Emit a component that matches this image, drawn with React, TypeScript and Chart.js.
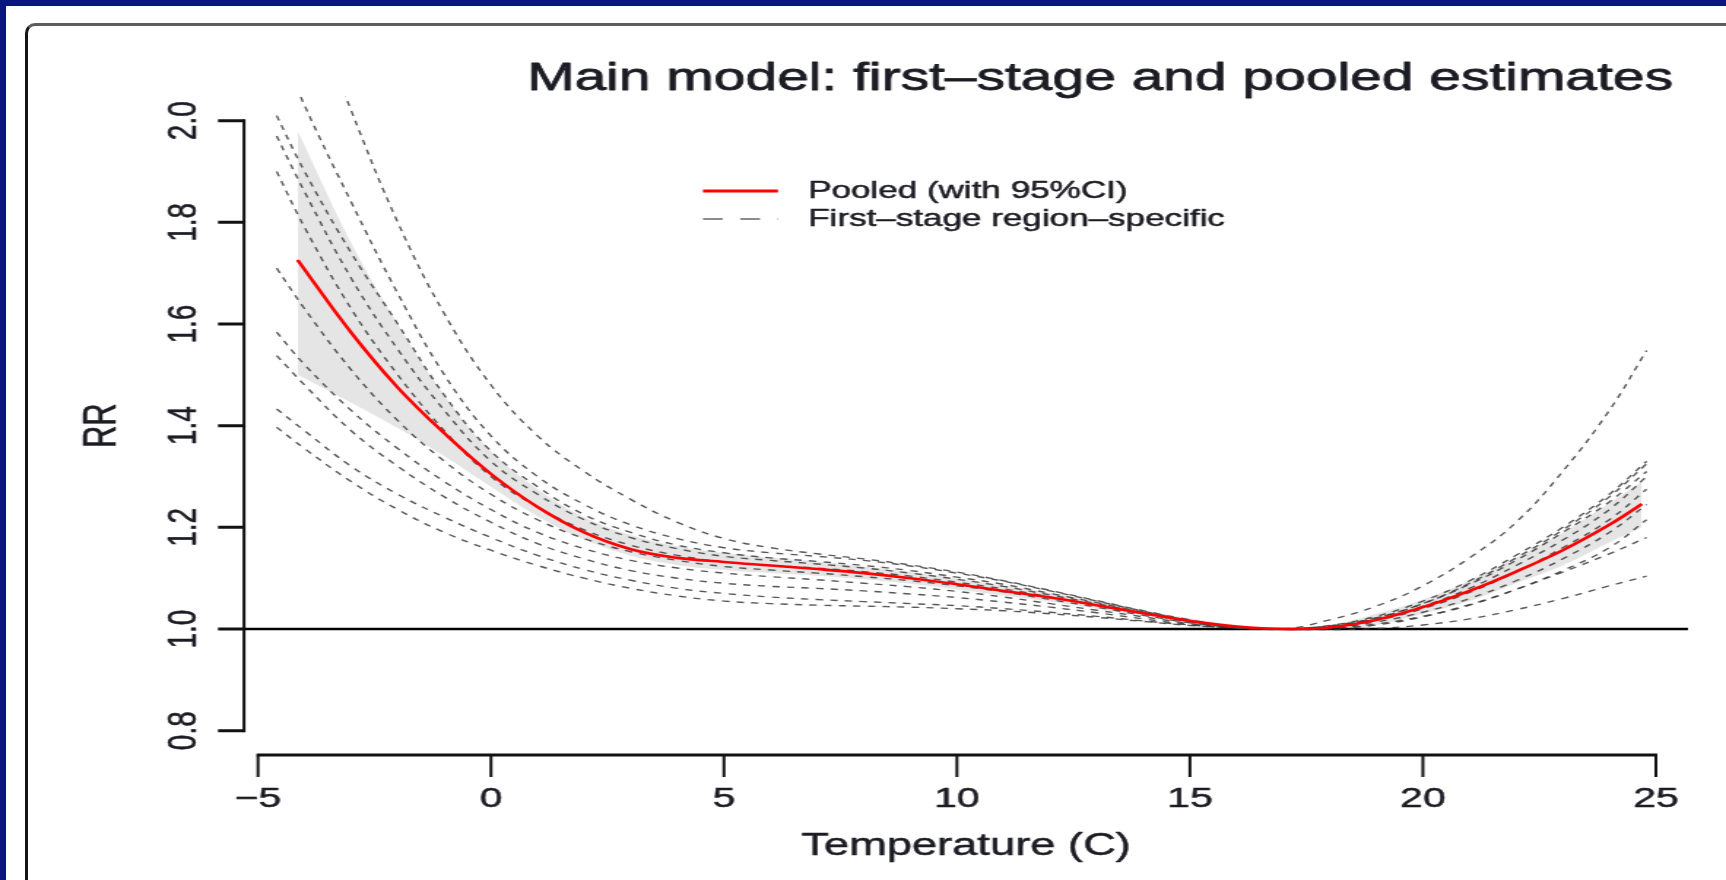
import React, { useEffect, useRef } from "react";
import { Chart, registerables } from "chart.js";

Chart.register(...registerables);

// ---------- data ----------
const chartTitle = "Main model: first\u2013stage and pooled estimates";
const xAxisTitle = "Temperature (C)";
const yAxisTitle = "RR";
const legendLabels = ["Pooled (with 95%CI)", "First\u2013stage region\u2013specific"];

const xTicks = [-5, 0, 5, 10, 15, 20, 25];
const yTicks = [0.8, 1.0, 1.2, 1.4, 1.6, 1.8, 2.0];
const X_MIN = -5.3;
const X_MAX = 25.69;
const Y_MIN = 0.752;
const Y_MAX = 2.048;
const refRR = 1.0;

// pooled curve + 95% CI
const pooledTemps = [-4.15, -3, -2, -1, 0, 1, 2, 3, 4, 5, 6, 7, 8, 9, 10, 11, 12, 13, 14, 15, 16, 17, 18, 19, 20, 21, 22, 23, 24, 24.7];
const pooledRR = [1.726, 1.583, 1.475, 1.385, 1.305, 1.24, 1.19, 1.157, 1.14, 1.132, 1.125, 1.118, 1.11, 1.1, 1.088, 1.075, 1.062, 1.047, 1.031, 1.016, 1.005, 1.0, 1.003, 1.018, 1.043, 1.075, 1.113, 1.155, 1.205, 1.246];
const pooledLow = [1.5, 1.445, 1.395, 1.34, 1.28, 1.222, 1.176, 1.144, 1.126, 1.116, 1.11, 1.105, 1.098, 1.089, 1.078, 1.066, 1.054, 1.04, 1.026, 1.012, 1.002, 1.0, 0.999, 1.008, 1.03, 1.055, 1.09, 1.125, 1.17, 1.2];
const pooledHigh = [1.98, 1.76, 1.6, 1.46, 1.35, 1.275, 1.22, 1.185, 1.163, 1.15, 1.14, 1.133, 1.123, 1.112, 1.099, 1.085, 1.071, 1.055, 1.037, 1.021, 1.008, 1.0, 1.008, 1.03, 1.058, 1.095, 1.14, 1.19, 1.248, 1.29];

// first-stage region-specific curves
const regionTemps = [-4.6, -4, -3, -2, -1, 0, 1, 2, 3, 4, 5, 6, 7, 8, 9, 10, 11, 12, 13, 14, 15, 16, 17, 18, 19, 20, 21, 22, 23, 24, 24.8];
const region1 = [2.42, 2.26, 2.02, 1.8, 1.62, 1.48, 1.38, 1.31, 1.255, 1.21, 1.178, 1.16, 1.148, 1.138, 1.126, 1.112, 1.095, 1.076, 1.056, 1.036, 1.018, 1.005, 1.0, 1.018, 1.045, 1.085, 1.14, 1.21, 1.31, 1.43, 1.548];
const region2 = [2.16, 2.03, 1.84, 1.66, 1.5, 1.38, 1.3, 1.245, 1.205, 1.178, 1.16, 1.15, 1.143, 1.135, 1.124, 1.11, 1.094, 1.075, 1.055, 1.035, 1.017, 1.005, 1.0, 1.006, 1.022, 1.05, 1.09, 1.14, 1.195, 1.26, 1.325];
const region3 = [2.01, 1.9, 1.74, 1.6, 1.46, 1.35, 1.28, 1.225, 1.19, 1.165, 1.15, 1.14, 1.133, 1.125, 1.115, 1.102, 1.088, 1.07, 1.052, 1.033, 1.016, 1.004, 1.0, 1.007, 1.025, 1.055, 1.095, 1.145, 1.2, 1.265, 1.33];
const region4 = [1.97, 1.86, 1.69, 1.55, 1.43, 1.33, 1.265, 1.215, 1.18, 1.158, 1.143, 1.135, 1.128, 1.12, 1.11, 1.098, 1.084, 1.067, 1.05, 1.032, 1.015, 1.004, 1.0, 1.006, 1.022, 1.05, 1.088, 1.135, 1.19, 1.25, 1.31];
const region5 = [1.9, 1.79, 1.63, 1.5, 1.39, 1.3, 1.24, 1.195, 1.165, 1.145, 1.132, 1.125, 1.12, 1.113, 1.104, 1.092, 1.079, 1.063, 1.046, 1.03, 1.014, 1.003, 1.0, 1.005, 1.02, 1.045, 1.08, 1.125, 1.175, 1.235, 1.3];
const region6 = [1.71, 1.63, 1.51, 1.41, 1.33, 1.265, 1.215, 1.178, 1.152, 1.135, 1.123, 1.116, 1.11, 1.103, 1.095, 1.085, 1.073, 1.058, 1.043, 1.027, 1.012, 1.003, 1.0, 1.004, 1.017, 1.04, 1.072, 1.112, 1.16, 1.215, 1.275];
const region7 = [1.584, 1.52, 1.43, 1.355, 1.29, 1.235, 1.19, 1.158, 1.135, 1.12, 1.11, 1.103, 1.097, 1.09, 1.083, 1.074, 1.063, 1.05, 1.037, 1.024, 1.011, 1.002, 1.0, 1.003, 1.014, 1.033, 1.06, 1.095, 1.138, 1.19, 1.245];
const region8 = [1.538, 1.48, 1.39, 1.32, 1.26, 1.21, 1.168, 1.138, 1.115, 1.1, 1.09, 1.084, 1.08, 1.075, 1.069, 1.062, 1.053, 1.043, 1.032, 1.02, 1.009, 1.002, 1.0, 1.002, 1.01, 1.025, 1.048, 1.078, 1.115, 1.16, 1.215];
const region9 = [1.433, 1.39, 1.32, 1.265, 1.22, 1.18, 1.145, 1.117, 1.096, 1.08, 1.07, 1.063, 1.058, 1.054, 1.05, 1.046, 1.04, 1.033, 1.025, 1.016, 1.008, 1.002, 1.0, 1.001, 1.008, 1.024, 1.047, 1.078, 1.112, 1.148, 1.18];
const region10 = [1.397, 1.355, 1.29, 1.235, 1.19, 1.155, 1.125, 1.1, 1.08, 1.065, 1.055, 1.05, 1.047, 1.045, 1.043, 1.04, 1.036, 1.03, 1.023, 1.015, 1.007, 1.002, 1.0, 0.999, 1.001, 1.008, 1.02, 1.038, 1.06, 1.085, 1.104];
const regions = [region1, region2, region3, region4, region5, region6, region7, region8, region9, region10];

// ---------- styling ----------
const FULL_W = 1726;
const FULL_H = 880;
const LOGICAL_W = 1182; // drawn narrower and stretched horizontally like the reference
const NAVY = "#0a1680";
const TEXT = "#1c1c24";
const FONT = '"Liberation Sans", Arial, Helvetica, sans-serif';

const toPts = (xs: number[], ys: number[]) => xs.map((x, i) => ({ x, y: ys[i] }));
const fmtX = (v: number) => (v < 0 ? "\u2212" + Math.abs(v) : String(v));
const fmtY = (v: number) => v.toFixed(1);

function boldText(ctx: CanvasRenderingContext2D, s: string, x: number, y: number, w: number) {
  ctx.fillText(s, x, y);
  ctx.lineWidth = w;
  ctx.strokeText(s, x, y);
}

const rStylePlugin = {
  id: "rStyle",
  afterDraw(chart: any) {
    const ctx = chart.ctx as CanvasRenderingContext2D;
    const xs = chart.scales.x;
    const ys = chart.scales.y;
    const a = chart.chartArea;
    ctx.save();
    ctx.strokeStyle = "#111";
    ctx.fillStyle = TEXT;
    ctx.lineCap = "butt";

    // y axis line (vertical) + x tick marks (vertical)
    ctx.lineWidth = 2;
    ctx.beginPath();
    const yTop = ys.getPixelForValue(yTicks[yTicks.length - 1]);
    const yBot = ys.getPixelForValue(yTicks[0]);
    ctx.moveTo(a.left, yTop - 1.5);
    ctx.lineTo(a.left, yBot + 1.5);
    for (const t of xTicks) {
      const px = xs.getPixelForValue(t);
      ctx.moveTo(px, a.bottom);
      ctx.lineTo(px, a.bottom + 22);
    }
    ctx.stroke();

    // x axis line (horizontal) + y tick marks (horizontal)
    ctx.lineWidth = 3;
    ctx.beginPath();
    const xL = xs.getPixelForValue(xTicks[0]);
    const xR = xs.getPixelForValue(xTicks[xTicks.length - 1]);
    ctx.moveTo(xL - 1, a.bottom);
    ctx.lineTo(xR + 1, a.bottom);
    for (const t of yTicks) {
      const py = ys.getPixelForValue(t);
      ctx.moveTo(a.left, py);
      ctx.lineTo(a.left - 17.8, py);
    }
    ctx.stroke();

    ctx.strokeStyle = TEXT;
    ctx.lineJoin = "round";

    // tick labels
    ctx.font = `28px ${FONT}`;
    ctx.textAlign = "center";
    ctx.textBaseline = "middle";
    for (const t of xTicks) {
      boldText(ctx, fmtX(t), xs.getPixelForValue(t), a.bottom + 44, 0.5);
    }
    for (const t of yTicks) {
      ctx.save();
      ctx.translate(a.left - 40.4, ys.getPixelForValue(t));
      ctx.rotate(-Math.PI / 2);
      boldText(ctx, fmtY(t), 0, 0, 0.5);
      ctx.restore();
    }

    // axis titles
    ctx.font = `31px ${FONT}`;
    boldText(ctx, xAxisTitle, (a.left + a.right) / 2, a.bottom + 91, 0.5);
    ctx.save();
    ctx.translate(a.left - 96.6, (a.top + a.bottom) / 2);
    ctx.rotate(-Math.PI / 2);
    boldText(ctx, yAxisTitle, 0, 0, 0.5);
    ctx.restore();

    // main title
    ctx.font = `39px ${FONT}`;
    ctx.textAlign = "left";
    ctx.textBaseline = "alphabetic";
    boldText(ctx, chartTitle, 360.9, 90, 0.8);

    // legend
    const lx0 = 481.4;
    const lx1 = 532.8;
    ctx.strokeStyle = "#ff0000";
    ctx.lineWidth = 3;
    ctx.beginPath();
    ctx.moveTo(lx0, 191);
    ctx.lineTo(lx1, 191);
    ctx.stroke();
    ctx.strokeStyle = "#8c8c8c";
    ctx.lineWidth = 2;
    ctx.setLineDash([13.5, 12]);
    ctx.beginPath();
    ctx.moveTo(lx0, 219);
    ctx.lineTo(lx1, 219);
    ctx.stroke();
    ctx.setLineDash([]);
    ctx.strokeStyle = TEXT;
    ctx.font = `24px ${FONT}`;
    ctx.textBaseline = "middle";
    boldText(ctx, legendLabels[0], 553.4, 191, 0.5);
    boldText(ctx, legendLabels[1], 553.4, 219, 0.5);
    ctx.restore();
  },
};

export default function App() {
  const ref = useRef<HTMLCanvasElement>(null);

  useEffect(() => {
    const canvas = ref.current;
    if (!canvas) return;

    const regionSets = regions.map((vals, i) => ({
      label: `region ${i + 1}`,
      data: toPts(regionTemps, vals),
      borderColor: "rgba(60,60,60,0.85)",
      borderWidth: 1.4,
      borderDash: [5, 5],
      pointRadius: 0,
      fill: false,
      tension: 0.4,
      clip: 0,
    }));

    const chart = new Chart(canvas, {
      type: "line",
      data: {
        datasets: [
          {
            label: "Pooled",
            data: toPts(pooledTemps, pooledRR),
            borderColor: "#ff0000",
            borderWidth: 2.6,
            pointRadius: 0,
            fill: false,
            tension: 0.4,
            clip: 0,
          },
          ...regionSets,
          {
            label: "ref",
            data: [
              { x: X_MIN, y: refRR },
              { x: X_MAX, y: refRR },
            ],
            borderColor: "#000",
            borderWidth: 2.4,
            pointRadius: 0,
            fill: false,
            clip: 0,
          },
          {
            label: "CI high",
            data: toPts(pooledTemps, pooledHigh),
            borderWidth: 0,
            borderColor: "rgba(0,0,0,0)",
            backgroundColor: "#e5e5e5",
            pointRadius: 0,
            fill: "+1",
            tension: 0.4,
            clip: 0,
          },
          {
            label: "CI low",
            data: toPts(pooledTemps, pooledLow),
            borderWidth: 0,
            borderColor: "rgba(0,0,0,0)",
            pointRadius: 0,
            fill: false,
            tension: 0.4,
            clip: 0,
          },
        ] as any,
      },
      options: {
        responsive: false,
        animation: false,
        devicePixelRatio: 1,
        events: [],
        layout: { padding: { left: 167.1, top: 96.3, right: 26, bottom: 124.9 } },
        scales: {
          x: { type: "linear", min: X_MIN, max: X_MAX, display: false },
          y: { type: "linear", min: Y_MIN, max: Y_MAX, display: false },
        },
        plugins: {
          legend: { display: false },
          tooltip: { enabled: false },
          title: { display: false },
          filler: { drawTime: "beforeDatasetsDraw" },
        } as any,
      },
      plugins: [rStylePlugin],
    });
    return () => chart.destroy();
  }, []);

  return (
    <div
      style={{
        position: "fixed",
        left: 0,
        top: 0,
        width: FULL_W,
        height: FULL_H,
        background: NAVY,
        overflow: "hidden",
      }}
    >
      <div style={{ position: "absolute", left: 6, top: 6, right: 0, bottom: 0, background: "#ffffff" }} />
      <div
        style={{
          position: "absolute",
          left: 25,
          top: 23,
          width: 1800,
          height: 1000,
          borderTop: "3px solid #5c5c5c",
          borderLeft: "3px solid #151515",
          borderTopLeftRadius: 10,
        }}
      />
      <canvas
        ref={ref}
        width={LOGICAL_W}
        height={FULL_H}
        style={{ position: "absolute", left: 0, top: 0, width: `${FULL_W}px`, height: `${FULL_H}px`, display: "block" }}
      />
    </div>
  );
}
